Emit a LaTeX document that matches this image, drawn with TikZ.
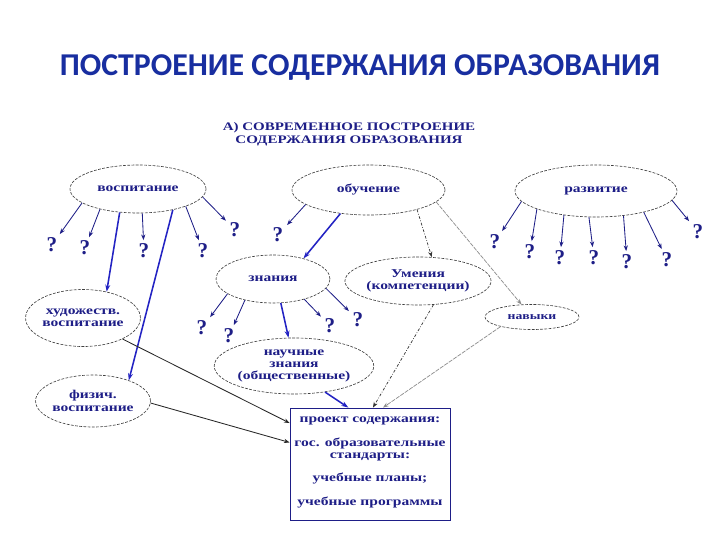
\documentclass[tikz,border=0pt]{standalone}
\usepackage{fontspec}
\setmainfont{Liberation Serif}
\newfontfamily\titlefont{Carlito}
\newfontfamily\schemefont[FakeStretch=1.3]{Liberation Serif}
\usetikzlibrary{arrows.meta,shapes.geometric,positioning}
\definecolor{titleblue}{RGB}{24,46,160}
\definecolor{inkblue}{RGB}{30,30,135}
\definecolor{arrowblue}{RGB}{35,35,195}

\begin{document}
\begin{tikzpicture}[x=0.25mm,y=-0.25mm,
  oval/.style={ellipse, draw=black!75, dash pattern=on 2pt off 1pt, line width=0.45pt,
    fill=white, inner sep=0pt, align=center, text=inkblue,
    font=\schemefont\bfseries\fontsize{8.5}{8.8}\selectfont},
  qmark/.style={text=inkblue, inner sep=2.5pt, font=\bfseries\fontsize{15}{15}\selectfont},
  qarrow/.style={-{Stealth[length=4pt,width=3pt]}, inkblue, line width=0.6pt},
  bluearrow/.style={-{Stealth[length=5pt,width=3.5pt]}, arrowblue, line width=1.1pt},
  thinarrow/.style={-{Stealth[length=4pt,width=3pt]}, black!85, line width=0.6pt},
  dotarrow/.style={-{Stealth[length=4pt,width=3pt]}, black!80, line width=0.5pt,
    dash pattern=on 2pt off 1.2pt on 0.5pt off 1.2pt},
  greyarrow/.style={-{Stealth[length=4pt,width=3pt]}, black!45, line width=0.5pt,
    dash pattern=on 3pt off 0.8pt}]

  \useasboundingbox[fill=white] (0,0) rectangle (720,540);

  % headings
  \node[text=titleblue, font=\titlefont\bfseries\fontsize{22.6}{24}\selectfont] (title) at (360,68)
    {ПОСТРОЕНИЕ СОДЕРЖАНИЯ ОБРАЗОВАНИЯ};
  \node[text=inkblue, align=center, font=\schemefont\bfseries\fontsize{8.2}{9.2}\selectfont]
    (subtitle) at (349,134) {А) СОВРЕМЕННОЕ ПОСТРОЕНИЕ\\СОДЕРЖАНИЯ ОБРАЗОВАНИЯ};

  % top row
  \node[oval, minimum width=34mm, minimum height=12mm] (vosp) at (138,189) {воспитание};
  \node[oval, minimum width=38.25mm, minimum height=12.5mm] (obuch) at (368.5,190) {обучение};
  \node[oval, minimum width=40.5mm, minimum height=13mm] (razv) at (596,191) {развитие};

  % middle row
  \node[oval, minimum width=28.5mm, minimum height=12mm] (znan) at (273,279) {знания};
  \node[oval, minimum width=34mm, minimum height=12mm] (umen) at (418,281) {Умения\\(компетенции)};
  \node[oval, minimum width=23.5mm, minimum height=6.25mm,
    font=\schemefont\bfseries\fontsize{7.5}{8}\selectfont] (navyk) at (532,317) {навыки};
  \node[oval, minimum width=28.5mm, minimum height=14.25mm] (hudozh) at (83,318) {художеств.\\воспитание};
  \node[oval, minimum width=27.5mm, minimum height=13mm] (fizich) at (93,401) {физич.\\воспитание};
  \node[oval, minimum width=36.5mm, minimum height=14mm] (nauch) at (294,366)
    {научные\\знания\\(общественные)};

  % project box
  \node[draw=inkblue, line width=0.6pt, minimum width=40mm, minimum height=28mm] (proekt) at (370,464) {};
  \node[text=inkblue, align=center, font=\schemefont\bfseries\fontsize{8.5}{8.3}\selectfont]
    (proekttext) at (370,462.5) {проект содержания:\\[8.5pt] гос. образовательные\\стандарты:\\[8.5pt]
    учебные планы;\\[8.5pt] учебные программы};

  % question marks: anchor angle / position
  \foreach \ang/\qx/\qy [count=\k] in {194/52/245, 208/85/248, 280/144/251, 340/203/251, 353/235/230} {
    \node[qmark] (qv\k) at (\qx,\qy) {?};
    \draw[qarrow] (vosp.\ang) -- (qv\k);
  }
  \node[qmark] (qo1) at (278,235) {?};
  \draw[qarrow] (obuch.193) -- (qo1);
  \foreach \ang/\qx/\qy [count=\k] in {188/495/242, 197/530/252, 217/560/258, 255/594/258,
      318/627/262, 336/667/260, 353/698/232} {
    \node[qmark] (qr\k) at (\qx,\qy) {?};
    \draw[qarrow] (razv.\ang) -- (qr\k);
  }
  \foreach \ang/\qx/\qy [count=\k] in {198/202/328, 217/229/336, 327/330/326, 350/358/320} {
    \node[qmark] (qz\k) at (\qx,\qy) {?};
    \draw[qarrow] (znan.\ang) -- (qz\k);
  }

  % links
  \draw[bluearrow] (obuch.220) -- (znan.34);
  \draw[bluearrow] (znan.288) -- (nauch.101);
  \draw[bluearrow] (nauch.320) -- (proekt.111);
  \draw[bluearrow] (vosp.232) -- (hudozh.48);
  \draw[bluearrow] (vosp.329) -- (fizich.30);
  \draw[thinarrow] (hudozh.332) -- (proekt.153);
  \draw[thinarrow] (fizich.358) -- (proekt.165);
  \draw[dotarrow] (obuch.338) -- (umen.60);
  \draw[dotarrow] (umen.303) -- (proekt.87);
  \draw[greyarrow] (obuch.350) -- (navyk.130);
  \draw[greyarrow] (navyk.197) -- (proekt.77);

\end{tikzpicture}
\end{document}
